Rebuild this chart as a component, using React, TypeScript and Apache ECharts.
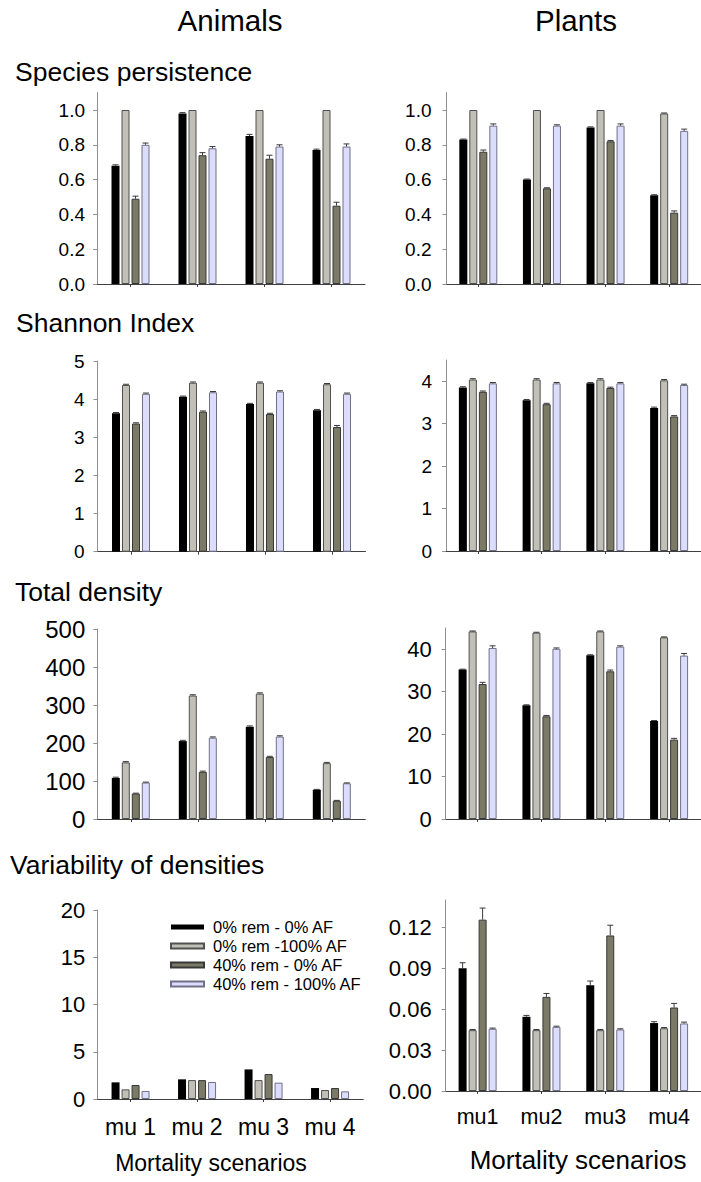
import React, { useEffect, useRef } from "react";
import * as echarts from "echarts";

const treatments = ["0% rem - 0% AF", "0% rem -100% AF", "40% rem - 0% AF", "40% rem - 100% AF"];
const animalCats = ["mu 1", "mu 2", "mu 3", "mu 4"];
const plantCats = ["mu1", "mu2", "mu3", "mu4"];

// values: one row per treatment, one column per mortality scenario
const animalsPersistence = [
  [0.68, 0.98, 0.85, 0.77],
  [1.0, 1.0, 1.0, 1.0],
  [0.49, 0.74, 0.72, 0.45],
  [0.8, 0.78, 0.79, 0.79],
];
const animalsPersistenceErr = [
  [0.005, 0.005, 0.01, 0.005],
  [0, 0, 0, 0],
  [0.015, 0.015, 0.02, 0.02],
  [0.01, 0.01, 0.01, 0.015],
];
const plantsPersistence = [
  [0.83, 0.6, 0.9, 0.51],
  [1.0, 1.0, 1.0, 0.98],
  [0.76, 0.55, 0.82, 0.41],
  [0.91, 0.91, 0.91, 0.88],
];
const plantsPersistenceErr = [
  [0.003, 0.003, 0.003, 0.003],
  [0, 0, 0, 0.003],
  [0.01, 0.003, 0.005, 0.01],
  [0.01, 0.005, 0.01, 0.01],
];
const animalsShannon = [
  [3.63, 4.06, 3.87, 3.71],
  [4.37, 4.43, 4.43, 4.39],
  [3.36, 3.67, 3.61, 3.27],
  [4.14, 4.18, 4.2, 4.14],
];
const animalsShannonErr = [
  [0.02, 0.02, 0.02, 0.02],
  [0.02, 0.02, 0.02, 0.02],
  [0.02, 0.02, 0.02, 0.04],
  [0.02, 0.02, 0.02, 0.02],
];
const plantsShannon = [
  [3.85, 3.55, 3.95, 3.37],
  [4.04, 4.04, 4.04, 4.02],
  [3.75, 3.46, 3.84, 3.17],
  [3.95, 3.95, 3.95, 3.91],
];
const plantsShannonErr = [
  [0.02, 0.02, 0.02, 0.02],
  [0.02, 0.02, 0.02, 0.02],
  [0.02, 0.02, 0.02, 0.02],
  [0.02, 0.02, 0.02, 0.02],
];
const animalsDensity = [
  [108, 205, 243, 77],
  [149, 325, 330, 147],
  [67, 124, 163, 48],
  [96, 214, 217, 94],
];
const animalsDensityErr = [
  [2, 2, 2, 1],
  [2, 2, 2, 2],
  [1, 2, 2, 1],
  [1, 2, 2, 1],
];
const plantsDensity = [
  [35.2, 26.8, 38.6, 23.1],
  [44.2, 43.9, 44.2, 42.8],
  [31.8, 24.2, 34.8, 18.7],
  [40.3, 40.1, 40.6, 38.5],
];
const plantsDensityErr = [
  [0.1, 0.1, 0.1, 0.1],
  [0.1, 0.1, 0.1, 0.1],
  [0.4, 0.2, 0.3, 0.3],
  [0.5, 0.2, 0.2, 0.5],
];
const animalsVariability = [
  [1.76, 2.08, 3.13, 1.16],
  [1.02, 2.0, 2.0, 0.95],
  [1.48, 2.0, 2.64, 1.16],
  [0.85, 1.8, 1.73, 0.81],
];
const animalsVariabilityErr = [
  [0, 0, 0, 0],
  [0, 0, 0, 0],
  [0, 0, 0, 0],
  [0, 0, 0, 0],
];
const plantsVariability = [
  [0.09, 0.0544, 0.0776, 0.0498],
  [0.0446, 0.0446, 0.0446, 0.046],
  [0.1256, 0.069, 0.114, 0.0612],
  [0.0456, 0.047, 0.0451, 0.0495],
];
const plantsVariabilityErr = [
  [0.004, 0.001, 0.003, 0.001],
  [0.0005, 0.0005, 0.0005, 0.0005],
  [0.0085, 0.0025, 0.0075, 0.003],
  [0.0005, 0.0005, 0.0005, 0.001],
];

const columnTitles = ["Animals", "Plants"];
const rowTitles = ["Species persistence", "Shannon Index", "Total density", "Variability of densities"];
const xTitle = "Mortality scenarios";

const COLORS = ["#000000", "#c0c0b6", "#7a7a66", "#dcdcfc"];
const BORDERS = ["#000000", "#505050", "#383838", "#707088"];
const FONT = "'Liberation Sans', Arial, sans-serif";

type Panel = {
  grid: { left: number; top: number; width: number; height: number };
  cats: string[];
  data: number[][];
  errs: number[][];
  max: number;
  interval: number;
  decimals: number;
  showMax: boolean;
  showX: boolean;
  yFont: number;
  yMargin: number;
  xFont?: number;
  xMargin?: number;
};

const panels: Panel[] = [
  { grid: { left: 97, top: 92.6, width: 268, height: 191.4 }, cats: animalCats, data: animalsPersistence, errs: animalsPersistenceErr, max: 1.1, interval: 0.2, decimals: 1, showMax: false, showX: false, yFont: 19, yMargin: 12 },
  { grid: { left: 446.5, top: 92.6, width: 267, height: 191.4 }, cats: plantCats, data: plantsPersistence, errs: plantsPersistenceErr, max: 1.1, interval: 0.2, decimals: 1, showMax: false, showX: false, yFont: 19, yMargin: 15 },
  { grid: { left: 97.5, top: 361, width: 268, height: 190.7 }, cats: animalCats, data: animalsShannon, errs: animalsShannonErr, max: 5, interval: 1, decimals: 0, showMax: true, showX: false, yFont: 19, yMargin: 13 },
  { grid: { left: 446, top: 360, width: 267, height: 191 }, cats: plantCats, data: plantsShannon, errs: plantsShannonErr, max: 4.5, interval: 1, decimals: 0, showMax: false, showX: false, yFont: 19, yMargin: 14 },
  { grid: { left: 97.3, top: 629, width: 268, height: 190 }, cats: animalCats, data: animalsDensity, errs: animalsDensityErr, max: 500, interval: 100, decimals: 0, showMax: true, showX: false, yFont: 24, yMargin: 12 },
  { grid: { left: 445.7, top: 628, width: 267, height: 191 }, cats: plantCats, data: plantsDensity, errs: plantsDensityErr, max: 45, interval: 10, decimals: 0, showMax: false, showX: false, yFont: 22, yMargin: 14 },
  { grid: { left: 97.3, top: 910, width: 266, height: 189 }, cats: animalCats, data: animalsVariability, errs: animalsVariabilityErr, max: 20, interval: 5, decimals: 0, showMax: true, showX: true, yFont: 22, yMargin: 12, xFont: 23, xMargin: 16 },
  { grid: { left: 445.7, top: 900, width: 267, height: 191 }, cats: plantCats, data: plantsVariability, errs: plantsVariabilityErr, max: 0.14, interval: 0.03, decimals: 2, showMax: false, showX: true, yFont: 22, yMargin: 14, xFont: 21.5, xMargin: 14.5 },
];

function buildOption() {
  const grid: any[] = [];
  const xAxis: any[] = [];
  const yAxis: any[] = [];
  const series: any[] = [];

  panels.forEach((p, gi) => {
    grid.push({ ...p.grid, containLabel: false });
    xAxis.push({
      type: "category",
      gridIndex: gi,
      data: p.cats,
      axisLine: { show: true, lineStyle: { color: "#404040", width: 1 } },
      axisTick: { show: true, alignWithLabel: true, length: 3, lineStyle: { color: "#404040" } },
      axisLabel: {
        show: p.showX,
        color: "#000",
        fontSize: p.xFont ?? 20,
        fontFamily: FONT,
        margin: p.xMargin ?? 16,
        interval: 0,
      },
      splitLine: { show: false },
    });
    yAxis.push({
      type: "value",
      gridIndex: gi,
      min: 0,
      max: p.max,
      interval: p.interval,
      axisLine: { show: true, lineStyle: { color: "#909090", width: 1 } },
      axisTick: { show: true, length: 4, lineStyle: { color: "#909090" } },
      splitLine: { show: false },
      axisLabel: {
        color: "#000",
        fontSize: p.yFont,
        fontFamily: FONT,
        margin: p.yMargin,
        showMaxLabel: p.showMax,
        formatter: (v: number) => v.toFixed(p.decimals),
      },
    });
    p.data.forEach((vals, si) => {
      series.push({
        type: "bar",
        name: treatments[si],
        xAxisIndex: gi,
        yAxisIndex: gi,
        data: vals,
        barWidth: 8,
        barGap: "25%",
        itemStyle: { color: COLORS[si], borderColor: BORDERS[si], borderWidth: si === 0 ? 0 : 1 },
        emphasis: { disabled: true },
      });
    });
    const errData: number[][] = [];
    p.data.forEach((vals, si) => {
      vals.forEach((v, ci) => {
        errData.push([ci, si, v, p.errs[si][ci]]);
      });
    });
    series.push({
      type: "custom",
      xAxisIndex: gi,
      yAxisIndex: gi,
      data: errData,
      encode: { x: 0, y: 2 },
      silent: true,
      z: 5,
      renderItem: (params: any, api: any) => {
        const ci = api.value(0);
        const si = api.value(1);
        const v = api.value(2);
        const e = api.value(3);
        if (!e) return null;
        const base = api.coord([ci, v]);
        const top = api.coord([ci, v + e]);
        const x = base[0] + (si - 1.5) * 10;
        const style = { stroke: "#3a3a3a", lineWidth: 1 };
        return {
          type: "group",
          children: [
            { type: "line", shape: { x1: x, y1: base[1], x2: x, y2: top[1] }, style },
            { type: "line", shape: { x1: x - 3, y1: top[1], x2: x + 3, y2: top[1] }, style },
          ],
        };
      },
    });
  });

  const titleY = [72, 323, 592, 865];
  const titleX = [15, 16, 15, 10];
  const texts: any[] = [];
  texts.push({ text: columnTitles[0], x: 230, y: 20, size: 29.5, align: "center" });
  texts.push({ text: columnTitles[1], x: 576, y: 20, size: 29.5, align: "center" });
  rowTitles.forEach((t, i) => texts.push({ text: t, x: titleX[i], y: titleY[i], size: 26.5, align: "left" }));
  texts.push({ text: xTitle, x: 211, y: 1163, size: 23, align: "center" });
  texts.push({ text: xTitle, x: 578, y: 1160, size: 26, align: "center" });
  const graphic = texts.map((t) => ({
    type: "text",
    x: t.x,
    y: t.y,
    silent: true,
    style: {
      text: t.text,
      fontSize: t.size,
      fontFamily: FONT,
      fill: "#000",
      align: t.align,
      verticalAlign: "middle",
      textAlign: t.align,
      textVerticalAlign: "middle",
    },
  }));

  return {
    animation: false,
    backgroundColor: "#ffffff",
    grid,
    xAxis,
    yAxis,
    series,
    graphic,
    legend: {
      show: true,
      orient: "vertical",
      left: 165,
      top: 912.5,
      padding: 5,
      itemWidth: 33,
      itemHeight: 5,
      itemGap: 0,
      icon: "rect",
      selectedMode: false,
      data: treatments,
      textStyle: { fontSize: 16.5, fontFamily: FONT, color: "#000", lineHeight: 19, padding: [0, 0, 0, 4] },
    },
  };
}

export default function App() {
  const ref = useRef<HTMLDivElement>(null);
  useEffect(() => {
    if (!ref.current) return;
    const chart = echarts.init(ref.current, null, { renderer: "svg" });
    chart.setOption(buildOption() as any);
    return () => chart.dispose();
  }, []);
  return (
    <div
      ref={ref}
      style={{ position: "absolute", left: 0, top: 0, width: 701, height: 1182, background: "#fff" }}
    />
  );
}
